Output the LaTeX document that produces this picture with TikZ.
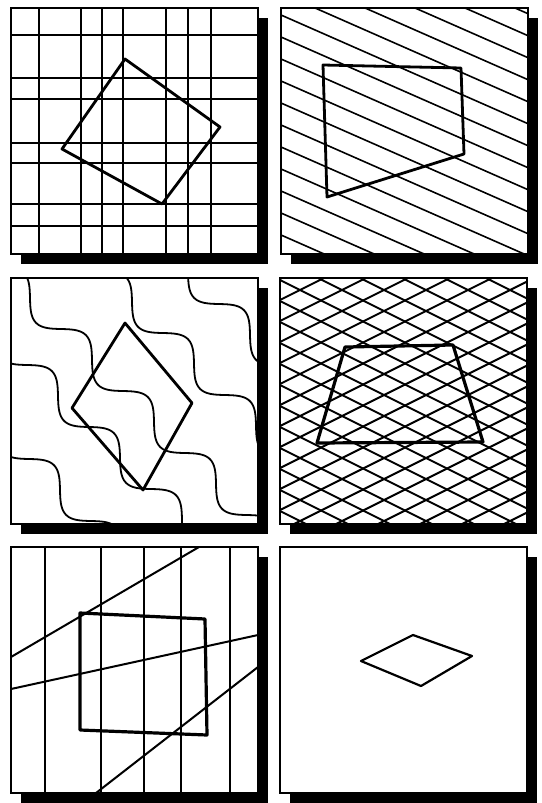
\documentclass[tikz,border=0pt]{standalone}
\usetikzlibrary{calc}
\begin{document}
\begin{tikzpicture}[x=1pt, y=-1pt,
    frame/.style={draw=black, line width=1.2pt, fill=white},
    shade/.style={fill=black},
    hatch/.style={line width=1.8pt},
    outline/.style={line width=2.8pt, line join=round}]
  \useasboundingbox (0,0) rectangle (541,803);
  % shadows and frames
  \foreach \px/\py in {11/8, 281/8, 11/278, 280/278, 11/547, 280/547} {
    \fill[shade] (\px+10,\py+10) rectangle ++(247,246);
    \draw[frame] (\px,\py) rectangle ++(247,246);
  }
  % panel 1: grid
  \begin{scope}
    \clip (11,8) rectangle (258,254);
    \foreach \gx in {39,81,102,123,166,188,211} \draw[hatch] (\gx,8) -- (\gx,254);
    \foreach \gy in {35,78,99,143,163,204,226} \draw[hatch] (11,\gy) -- (258,\gy);
  \end{scope}
  \draw[outline] (125,59) -- (220,127) -- (162,204) -- (62,149) -- cycle;
  % panel 2: slanted hatch
  \begin{scope}
    \clip (281,8) rectangle (528,254);
    \foreach \k in {-6,...,11} \draw[hatch, line width=1.6pt] (281,15+22*\k) -- ++(247,108.7);
  \end{scope}
  \draw[outline] (323,65) -- (461,68) -- (464,154) -- (327,197) -- cycle;
  % panel 3: waves
  \begin{scope}
    \clip (11,278) rectangle (258,524);
    \foreach \base/\ph in {85/2, 170/8, 268/30, 338/58, 430/60}
      \draw[hatch] plot[domain=-20:280, samples=240, smooth]
        ({\x+9.4*sin(5.806*(\x-\ph)+180)}, {\x+\base-9.4*sin(5.806*(\x-\ph)+180)});
  \end{scope}
  \draw[outline] (125,323) -- (192,403) -- (143,490) -- (72,408) -- cycle;
  % panel 4: cross hatch
  \begin{scope}
    \clip (280,278) rectangle (527,524);
    \foreach \k in {-7,...,18} {
      \draw[hatch, line width=2pt] (280,280+21*\k) -- ++(248,124);
      \draw[hatch, line width=2pt] (280,279+21*\k) -- ++(248,-124);
    }
  \end{scope}
  \draw[outline, line width=3.2pt] (345,347) -- (453,345) -- (483,442) -- (317,443) -- cycle;
  % panel 5: verticals and slants
  \begin{scope}
    \clip (11,547) rectangle (258,793);
    \foreach \gx in {45,101,144,181,230} \draw[hatch] (\gx,547) -- (\gx,793);
    \draw[hatch, line width=2pt] (11,657) -- (199,547);
    \draw[hatch, line width=2pt] (11,689) -- (258,635);
    \draw[hatch, line width=2pt] (96,793) -- (258,667);
  \end{scope}
  \draw[outline, line width=3.2pt] (80,613) -- (205,619) -- (207,735) -- (80,730) -- cycle;
  % panel 6: single diamond
  \draw[outline, line width=2.2pt] (361,661) -- (413,635) -- (472,656) -- (421,686) -- cycle;
\end{tikzpicture}
\end{document}
